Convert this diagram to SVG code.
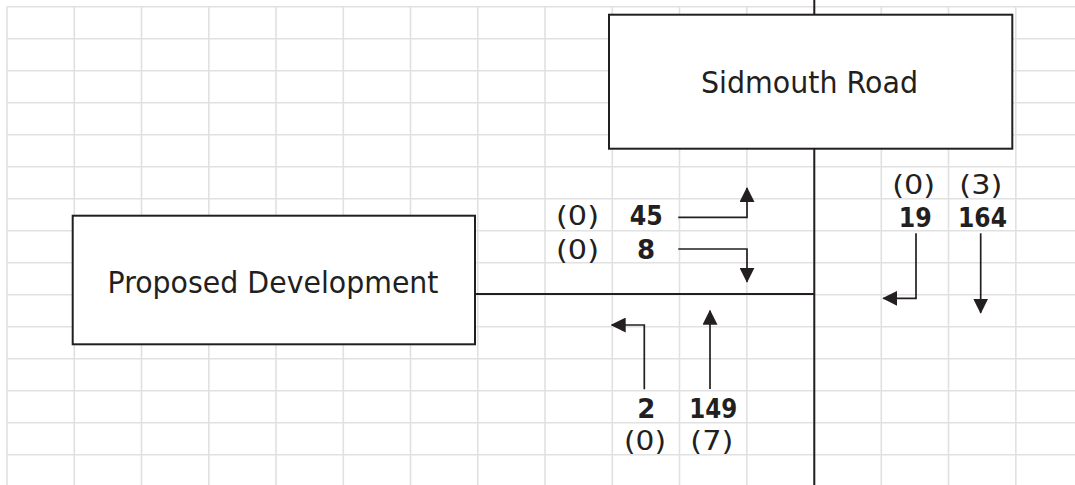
<svg xmlns="http://www.w3.org/2000/svg" width="1075" height="485" viewBox="0 0 1075 485">
  <style>
    .grid line { stroke: #e1e1e1; stroke-width: 1.6; }
    .road { stroke: #231f20; stroke-width: 2; fill: none; }
    .box { fill: #ffffff; stroke: #231f20; stroke-width: 2; }
    .title { font-family: "DejaVu Sans", Verdana, sans-serif; font-size: 31px; fill: #231f20; text-anchor: middle; }
    .flow { font-family: "DejaVu Sans", Verdana, sans-serif; font-size: 26px; fill: #231f20; text-anchor: middle; }
    .flow.b { font-weight: bold; }
    .arrow { stroke: #231f20; stroke-width: 1.7; fill: none; marker-end: url(#head); }
  </style>
  <defs>
    <marker id="head" viewBox="0 0 15 15" refX="14" refY="7.5" markerWidth="15" markerHeight="15" markerUnits="userSpaceOnUse" orient="auto">
      <path d="M0,0 L15,7.5 L0,15 Z" fill="#231f20"/>
    </marker>
  </defs>

  <rect width="1075" height="485" fill="#ffffff"/>

  <!-- spreadsheet grid -->
  <g class="grid">
    <line x1="7" y1="6.7" x2="1075" y2="6.7"/>
    <line x1="7" y1="38.7" x2="1075" y2="38.7"/>
    <line x1="7" y1="70.7" x2="1075" y2="70.7"/>
    <line x1="7" y1="102.7" x2="1075" y2="102.7"/>
    <line x1="7" y1="134.7" x2="1075" y2="134.7"/>
    <line x1="7" y1="166.7" x2="1075" y2="166.7"/>
    <line x1="7" y1="198.7" x2="1075" y2="198.7"/>
    <line x1="7" y1="230.7" x2="1075" y2="230.7"/>
    <line x1="7" y1="262.7" x2="1075" y2="262.7"/>
    <line x1="7" y1="294.7" x2="1075" y2="294.7"/>
    <line x1="7" y1="326.7" x2="1075" y2="326.7"/>
    <line x1="7" y1="358.7" x2="1075" y2="358.7"/>
    <line x1="7" y1="390.7" x2="1075" y2="390.7"/>
    <line x1="7" y1="422.7" x2="1075" y2="422.7"/>
    <line x1="7" y1="454.7" x2="1075" y2="454.7"/>
    <line x1="7" y1="6.7" x2="7" y2="485"/>
    <line x1="74.3" y1="6.7" x2="74.3" y2="485"/>
    <line x1="141.5" y1="6.7" x2="141.5" y2="485"/>
    <line x1="208.8" y1="6.7" x2="208.8" y2="485"/>
    <line x1="276" y1="6.7" x2="276" y2="485"/>
    <line x1="343.3" y1="6.7" x2="343.3" y2="485"/>
    <line x1="410.5" y1="6.7" x2="410.5" y2="485"/>
    <line x1="477.8" y1="6.7" x2="477.8" y2="485"/>
    <line x1="545" y1="6.7" x2="545" y2="485"/>
    <line x1="612.3" y1="6.7" x2="612.3" y2="485"/>
    <line x1="679.5" y1="6.7" x2="679.5" y2="485"/>
    <line x1="746.8" y1="6.7" x2="746.8" y2="485"/>
    <line x1="814" y1="6.7" x2="814" y2="485"/>
    <line x1="881.3" y1="6.7" x2="881.3" y2="485"/>
    <line x1="948.5" y1="6.7" x2="948.5" y2="485"/>
    <line x1="1015.8" y1="6.7" x2="1015.8" y2="485"/>
  </g>

  <!-- road centre lines -->
  <g id="roads">
    <line class="road" x1="814.3" y1="0" x2="814.3" y2="485"/>
    <line class="road" x1="475" y1="294" x2="814.3" y2="294"/>
  </g>

  <g id="sidmouth-road">
    <rect class="box" x="609" y="14.7" width="403.3" height="134"/>
    <text class="title" x="809.5" y="93" textLength="217" lengthAdjust="spacingAndGlyphs">Sidmouth Road</text>
  </g>

  <g id="proposed-development">
    <rect class="box" x="72.7" y="215.7" width="402.3" height="128.6"/>
    <text class="title" x="273" y="293.3" textLength="331" lengthAdjust="spacingAndGlyphs">Proposed Development</text>
  </g>

  <!-- turning movement arrows -->
  <g id="connectors">
    <path class="arrow" d="M678.3,217.3 H747 V188"/>
    <path class="arrow" d="M678.3,249 H747 V281.7"/>
    <path class="arrow" d="M644.3,389.3 V325 H611.7"/>
    <path class="arrow" d="M710,389 V310.7"/>
    <path class="arrow" d="M916,233.3 V298.3 H883.3"/>
    <path class="arrow" d="M980.7,233.3 V312.7"/>
  </g>

  <!-- flow figures -->
  <g id="flows-west">
    <text class="flow" x="577.5" y="225.3" textLength="43" lengthAdjust="spacingAndGlyphs">(0)</text>
    <text class="flow b" x="646.2" y="225.3" textLength="33" lengthAdjust="spacingAndGlyphs">45</text>
    <text class="flow" x="577.5" y="259" textLength="43" lengthAdjust="spacingAndGlyphs">(0)</text>
    <text class="flow b" x="646" y="259">8</text>
  </g>
  <g id="flows-east">
    <text class="flow" x="913.7" y="194.3" textLength="43" lengthAdjust="spacingAndGlyphs">(0)</text>
    <text class="flow" x="980.8" y="194.3" textLength="43" lengthAdjust="spacingAndGlyphs">(3)</text>
    <text class="flow b" x="915.3" y="226.7" textLength="33" lengthAdjust="spacingAndGlyphs">19</text>
    <text class="flow b" x="982.5" y="226.7" textLength="49" lengthAdjust="spacingAndGlyphs">164</text>
  </g>
  <g id="flows-south">
    <text class="flow b" x="646.3" y="418.3">2</text>
    <text class="flow b" x="713.3" y="418.3" textLength="48" lengthAdjust="spacingAndGlyphs">149</text>
    <text class="flow" x="645" y="449.5" textLength="42" lengthAdjust="spacingAndGlyphs">(0)</text>
    <text class="flow" x="711.8" y="449.5" textLength="43" lengthAdjust="spacingAndGlyphs">(7)</text>
  </g>
</svg>
